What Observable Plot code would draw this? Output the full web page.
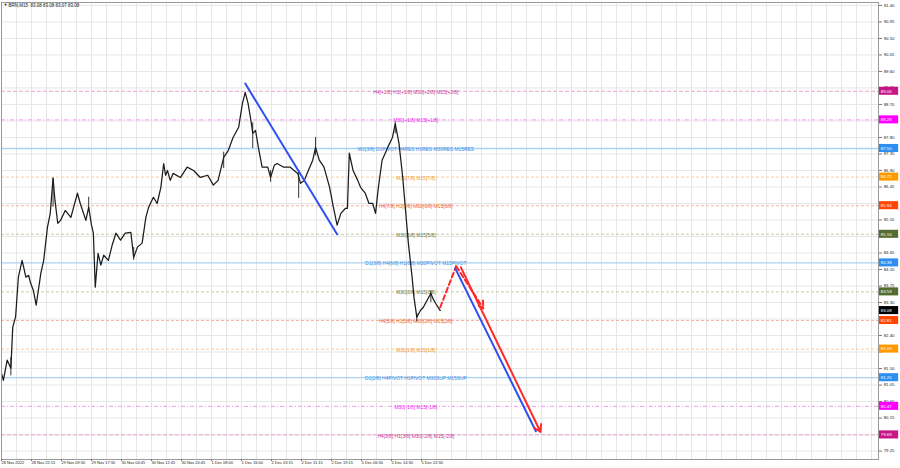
<!DOCTYPE html>
<html><head><meta charset="utf-8">
<script src="https://cdn.jsdelivr.net/npm/d3@7"></script>
<script src="https://cdn.jsdelivr.net/npm/@observablehq/plot@0.6"></script>
<style>
body{margin:0;background:#fff;font-family:"Liberation Sans",Arial,sans-serif;}
#chart svg{display:block;}
</style>
</head><body><div id="chart"></div>
<script>
// ---------- data ----------
const symbolTitle = "BRN,M15  83.08 83.08 83.07 83.08";

const barIdx = [0,2,6,10,12,15,18,22,26,29,31,34,37,42,45,49,52,55,57,60,63,68,74,81,84,90,93,96,98,100,103,106,109,114,118,122,127,132,138,141,145,150,154,157,162,166,170,173,175,177,180,183,191,198,205,212,220,226,231,237,242,247,253,257,260,263,266,268,271,274,278,284,287,291,294,301,308,316,319,323,326,332,335,339,344,350,354,358,362,367,369,371,375,380,383,388,392,396,399,402,406,412,417,420,424,428,431,434,438,440,443,447,450,454,458,460,463,468];
const closes = [81.37,81.18,81.73,81.51,82.63,82.90,83.99,84.45,83.99,84.04,83.83,83.63,83.23,84.10,84.45,85.35,85.73,86.69,86.09,85.46,85.54,85.81,85.62,86.28,86.00,85.54,85.90,85.41,85.19,83.72,84.64,84.32,84.59,84.45,84.86,85.19,85.00,85.19,85.21,84.53,84.81,84.92,85.62,85.90,86.17,86.00,86.44,87.09,86.77,86.90,86.63,86.82,86.71,86.99,86.90,86.71,86.77,86.50,86.63,87.26,87.45,87.80,88.08,88.73,89.03,88.73,88.27,87.91,87.99,87.53,86.99,86.99,86.71,87.04,87.09,86.99,86.99,86.82,86.55,86.63,86.82,87.18,87.53,87.18,86.99,86.44,85.90,85.41,85.73,85.87,85.87,87.37,86.90,86.63,86.44,86.28,86.00,86.00,85.73,86.44,87.18,87.53,87.80,88.18,87.64,86.71,85.81,84.92,83.99,83.44,82.90,83.09,83.17,83.36,83.55,83.42,83.28,83.08];

// visible candle wicks (bar index, high, low)
const wickIdx  = [10, 55, 93, 141, 237, 268, 287, 317, 335, 420, 443, 458];
const wickHigh = [81.80, 86.69, 86.17, 84.80, 87.40, 88.20, 86.90, 86.90, 87.80, 88.22, 83.00, 83.62];
const wickLow  = [81.30, 85.90, 85.80, 84.45, 86.95, 87.50, 86.58, 86.14, 87.30, 87.90, 82.77, 83.30];

const xTickIdx = [0,32,64,96,128,160,192,224,256,288,320,352,384,416,448];
const xTickLabels = ["28 Nov 2022","28 Nov 22:15","29 Nov 09:30","29 Nov 17:30","30 Nov 04:45","30 Nov 12:45","30 Nov 20:45","1 Dec 08:00","1 Dec 16:00","2 Dec 03:15","2 Dec 11:15","2 Dec 19:15","5 Dec 06:30","5 Dec 14:30","5 Dec 22:30"];
const yTickValues = [91.40,90.95,90.50,90.05,89.60,89.15,88.70,88.25,87.80,87.35,86.90,86.45,86.00,85.55,85.10,84.65,84.20,83.75,83.30,82.85,82.40,81.95,81.50,81.05,80.60,80.15,79.70,79.25];

const levelValues = [89.06,88.28,87.50,86.72,85.94,85.16,84.38,83.59,82.81,82.03,81.25,80.47,79.69];
const levelLabels = [
  "H4[+1/8] H1[+1/8] M30[+2/8] M15[+2/8]",
  "M30[+1/8] M15[+1/8]",
  "W1[3/8] D1PIVOT H4RES H1RES M30RES M15RES",
  "M30[7/8] M15[7/8]",
  "H4[7/8] H1[7/8] M30[6/8] M15[6/8]",
  "M30[5/8] M15[5/8]",
  "D1[3/8] H4[6/8] H1[6/8] M30PIVOT M15PIVOT",
  "M30[3/8] M15[3/8]",
  "H4[5/8] H1[5/8] M30[2/8] M15[2/8]",
  "M30[1/8] M15[1/8]",
  "D1[2/8] H4PIVOT H1PIVOT M30SUP M15SUP",
  "M30[-1/8] M15[-1/8]",
  "H4[3/8] H1[3/8] M30[-2/8] M15[-2/8]"
];
const levelKinds = ["h4ext","m30ext","pivot","m30","h4","m30b","pivot","m30b","h4","m30","pivot","m30ext","h4ext"];
const lastPrice = 83.08;

const trendIdx = [260, 358];
const trendPrice = [89.27, 85.16];
const fcDashIdx = [468, 485, 514];
const fcDashPrice = [83.17, 84.29, 83.14];
const fcBlueIdx = [484, 570];
const fcBluePrice = [84.23, 79.79];
const fcRedIdx = [490, 575];
const fcRedPrice = [84.26, 79.77];

// ---------- styles ----------
const kindStyle = {
  h4ext:  {line:"#e8a3cc", text:"#c8388f", badge:"#c71585", dash:"4,2"},
  m30ext: {line:"#f39af3", text:"#f01ef0", badge:"#ff00ff", dash:"4,2,1,2"},
  pivot:  {line:"#a9d2f5", text:"#3f8fe0", badge:"#2e8ef0", dash:null},
  m30:    {line:"#f9cfa2", text:"#f59a2a", badge:"#ff9900", dash:"3,2"},
  h4:     {line:"#f6b4a0", text:"#f2602e", badge:"#ff4500", dash:"3,2"},
  m30b:   {line:"#c9c9ae", text:"#6e7d3e", badge:"#556b2f", dash:"3,2"}
};

const price = barIdx.map((i, k) => ({i, p: closes[k]}));
const wicks = wickIdx.map((i, k) => ({i, h: wickHigh[k], l: wickLow[k]}));
const levels = levelValues.map((v, k) => ({v, label: levelLabels[k], kind: levelKinds[k]}));
const toPts = (a, b) => a.map((i, k) => ({i, p: b[k]}));
const trend = toPts(trendIdx, trendPrice);
const fcDash = toPts(fcDashIdx, fcDashPrice);
const badgeValues = levelValues.concat([lastPrice]);
// tick labels that sit under a price badge are hidden, as in the terminal
const yTickShown = yTickValues.filter(t => !badgeValues.some(b => Math.abs(b - t) < 0.085));

const gridX = d3.range(0, 936, 16);
const font = "Liberation Sans, Arial, sans-serif";

const levelMarks = Object.keys(kindStyle).map(k => Plot.ruleY(levels.filter(d => d.kind === k), {
  y: "v", stroke: kindStyle[k].line, strokeWidth: k === "pivot" ? 1.3 : 1,
  strokeDasharray: kindStyle[k].dash
}));

const chart = Plot.plot({
  width: 900, height: 468,
  marginLeft: 1, marginRight: 22, marginTop: 2, marginBottom: 9,
  style: {fontFamily: font, background: "#fff"},
  x: {domain: [0, 935.5], axis: null, label: null},
  y: {domain: [79.02, 91.48], axis: null, label: null},
  color: {type: "identity"},
  marks: [
    Plot.ruleX(gridX, {stroke: "#e6e6e6", strokeWidth: 1}),
    Plot.ruleY(yTickValues, {stroke: "#e6e6e6", strokeWidth: 1}),
    ...levelMarks,
    Plot.text(levels, {x: 442, y: "v", text: "label", fill: d => kindStyle[d.kind].text, fontSize: 4.9, dy: 1}),
    Plot.ruleX(wicks, {x: "i", y1: "l", y2: "h", stroke: "#333", strokeWidth: 1}),
    Plot.line(price, {x: "i", y: "p", stroke: "#1c1c1c", strokeWidth: 1.25}),
    Plot.line(trend, {x: "i", y: "p", stroke: "#2f4ff0", strokeWidth: 2}),
    Plot.line(fcDash.slice(0, 2), {x: "i", y: "p", stroke: "#ff2a2a", strokeWidth: 2, strokeDasharray: "5,3"}),
    Plot.arrow([fcDash], {x1: d => d[1].i, y1: d => d[1].p, x2: d => d[2].i, y2: d => d[2].p, stroke: "#ff2a2a", strokeWidth: 2, strokeDasharray: "5,3", headLength: 6}),
    Plot.line(toPts(fcBlueIdx, fcBluePrice), {x: "i", y: "p", stroke: "#2f4ff0", strokeWidth: 2}),
    Plot.arrow([toPts(fcRedIdx, fcRedPrice)], {x1: d => d[0].i, y1: d => d[0].p, x2: d => d[1].i, y2: d => d[1].p, stroke: "#ff2a2a", strokeWidth: 2, headLength: 6}),
    Plot.frame({stroke: "#9a9a9a"}),
    Plot.axisY(yTickValues, {anchor: "right", tickSize: 3, tickPadding: 2, tickFormat: () => "", label: null, stroke: "#777"}),
    Plot.text(yTickShown, {x: 941, y: d => d, text: d => d.toFixed(2), fontSize: 4.3, fill: "#222", textAnchor: "start"}),
    Plot.axisX(xTickIdx, {anchor: "bottom", tickSize: 2, tickPadding: 0, label: null, tickFormat: d => xTickLabels[xTickIdx.indexOf(d)], textAnchor: "start", fontSize: 4, fill: "#222", stroke: "#777"}),
    Plot.rect(levels, {x1: 936.5, x2: 957, y1: d => d.v - 0.11, y2: d => d.v + 0.11, fill: d => kindStyle[d.kind].badge}),
    Plot.text(levels, {x: 938, y: "v", text: d => d.v.toFixed(2), fill: "#fff", fontSize: 4.3, textAnchor: "start"}),
    Plot.rect([lastPrice], {x1: 936.5, x2: 957, y1: d => d - 0.11, y2: d => d + 0.11, fill: "#000"}),
    Plot.text([lastPrice], {x: 938, y: d => d, text: d => d.toFixed(2), fill: "#fff", fontSize: 4.3, textAnchor: "start"}),
    Plot.text(["\u25BC"], {frameAnchor: "top-left", dx: 2, dy: 1, fontSize: 4, fill: "#222"}),
    Plot.text([symbolTitle], {frameAnchor: "top-left", dx: 7, dy: 1, fontSize: 4.5, fill: "#222", textAnchor: "start"})
  ]
});
document.getElementById("chart").append(chart);
</script>
</body></html>
